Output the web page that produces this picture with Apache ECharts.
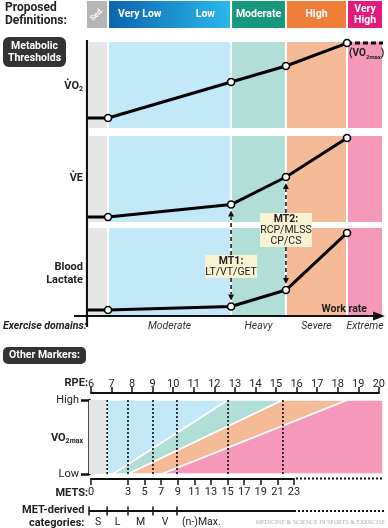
<!DOCTYPE html>
<html><head><meta charset="utf-8">
<script src="https://cdn.jsdelivr.net/npm/echarts@6/dist/echarts.min.js"></script>
<style>html,body{margin:0;padding:0;background:#fff}#c{width:388px;height:528px}</style>
</head><body><div id="c"></div>
<script>
// ---------------- data ----------------
const intensityNames = ['Sed.', 'Very Low', 'Low', 'Moderate', 'High', 'Very High'];
const headerBoxes = [[-0.7, 6.8], [6.8, 48.5], [48.5, 67.1], [67.1, 87.8], [87.8, 100]];
const domainNames = ['Moderate', 'Heavy', 'Severe', 'Extreme'];
const domainBounds = [0, 6.8, 48.5, 67.1, 87.8, 100];      // work rate, % of axis
const workRate = [0, 6.8, 48.5, 67.1, 87.8];
const vo2 = [11.6, 11.6, 53.5, 72.1, 98.8];
const ve = [5.8, 5.8, 20.3, 52.3, 97.7];
const lactate = [5.7, 5.7, 9.8, 28.7, 94.3];
const vo2maxPlateau = [[87.8, 98.8], [100, 98.8]];
const thresholdNames = [['MT1:', 'LT/VT/GET'], ['MT2:', 'RCP/MLSS', 'CP/CS']];
const thresholdIndex = [2, 3];
const rpeTicks = [6, 20];
const vo2maxLevels = ['Low', 'High'];
const vo2maxSedRange = [5.9, 6.72];                        // RPE units
const vo2maxBandLow = [6.77, 7.05, 7.77, 9.4, 20];         // band edges at low VO2max
const vo2maxBandHigh = [6.77, 12.57, 15.2, 18.3, 20];      // band edges at high VO2max
const dottedRPE = [6.77, 7.77, 8.97, 10.12, 12.57, 15.2];
const metsTicks = [0, 3, 5, 7, 9, 11, 13, 15, 17, 19, 21, 23];
const metsAxisStart = -1.46;                               // METS 0 drawn at axis start (broken axis)
const metCategories = ['S', 'L', 'M', 'V', '(n-)Max.'];
const metCategoryBounds = [5.9, 6.77, 7.77, 8.97, 10.12];  // RPE units

// ---------------- styles ----------------
const F = 'Roboto, "Noto Sans", sans-serif';
const bandColors = ['#e6e6e6', '#c3e8f8', '#b1dfd7', '#f5ba97', '#f598ba'];
const headerFills = ['#b5b5b5', null, '#17987c', '#ef7e3a', '#e5197c'];
const vo2maxColors = ['#c3e8f8', '#b1dfd7', '#f5ba97', '#f598ba'];

const chart = echarts.init(document.getElementById('c'));

function bandSeries(g) {
  return {
    type: 'custom', xAxisIndex: g, yAxisIndex: g, z: 1, silent: true,
    encode: { x: [0, 1] },
    data: domainBounds.slice(0, -1).map((b, i) => [b, domainBounds[i + 1], i]),
    renderItem(params, api) {
      const a = api.coord([api.value(0), 100]), b = api.coord([api.value(1), 0]);
      return { type: 'rect', shape: { x: a[0] + 1, y: a[1], width: b[0] - a[0] - 2, height: b[1] - a[1] },
        style: { fill: bandColors[api.value(2)] } };
    }
  };
}
function metricSeries(g, vals) {
  return {
    type: 'line', xAxisIndex: g, yAxisIndex: g, z: 5, clip: false,
    data: workRate.map((w, i) => i === 0 ? { value: [w, vals[i]], symbol: 'none' } : [w, vals[i]]),
    symbol: 'circle', symbolSize: 7,
    itemStyle: { color: '#fff', borderColor: '#000', borderWidth: 1.6 },
    lineStyle: { color: '#000', width: 3 }
  };
}
const hidX = g => ({ gridIndex: g, type: 'value', min: 0, max: 100, show: false });
const hidY = (g, mx) => ({ gridIndex: g, type: 'value', min: 0, max: mx, show: false });

const option = {
  animation: false,
  textStyle: { fontFamily: F },
  grid: [
    { left: 88, top: 1, width: 295, height: 27 },
    { left: 88, top: 42, width: 295, height: 86 },
    { left: 88, top: 136, width: 295, height: 86 },
    { left: 88, top: 228, width: 295, height: 87 },
    { left: 91, top: 393, width: 292, height: 1 },
    { left: 89, top: 400, width: 294, height: 74 },
    { left: 91, top: 478, width: 203, height: 1 }
  ],
  xAxis: [
    hidX(0), hidX(1), hidX(2), hidX(3),
    { gridIndex: 4, type: 'value', position: 'top', min: rpeTicks[0], max: rpeTicks[1], interval: 1,
      axisLine: { show: true, onZero: false, lineStyle: { color: '#111', width: 2 } },
      axisTick: { show: true, length: 6, lineStyle: { color: '#111', width: 1.5 } },
      axisLabel: { fontSize: 11, color: '#222', margin: 3 }, splitLine: { show: false } },
    { gridIndex: 5, type: 'value', min: vo2maxSedRange[0], max: 20, show: false },
    { gridIndex: 6, type: 'value', position: 'bottom', min: metsAxisStart, max: metsTicks[metsTicks.length - 1],
      axisLine: { show: true, onZero: false, lineStyle: { color: '#111', width: 2 } },
      axisTick: { show: true, length: 6, customValues: metsTicks.map(v => v === 0 ? metsAxisStart : v), lineStyle: { color: '#111', width: 1.5 } },
      axisLabel: { fontSize: 11, color: '#222', margin: 8, customValues: metsTicks.map(v => v === 0 ? metsAxisStart : v),
        formatter: v => v < 0 ? String(metsTicks[0]) : String(v) },
      splitLine: { show: false } }
  ],
  yAxis: [
    hidY(0, 1), hidY(1, 100), hidY(2, 100), hidY(3, 100), hidY(4, 1),
    { gridIndex: 5, type: 'value', min: 0, max: 1, interval: 1,
      axisLine: { show: true, onZero: false, lineStyle: { color: '#111', width: 2.5 } },
      axisTick: { show: true, length: 8, lineStyle: { color: '#111', width: 2.5 } },
      axisLabel: { fontSize: 11, color: '#222', margin: 10, formatter: v => vo2maxLevels[v] },
      splitLine: { show: false } },
    hidY(6, 1)
  ],
  series: [
    { // header: proposed definitions
      type: 'custom', xAxisIndex: 0, yAxisIndex: 0, z: 2, silent: true, encode: { x: [0, 1] },
      data: headerBoxes.map((b, i) => [b[0], b[1], i]),
      renderItem(params, api) {
        const i = api.value(2);
        const a = api.coord([api.value(0), 1]), b = api.coord([api.value(1), 0]);
        const x = a[0] + 1, y = a[1], w = b[0] - a[0] - 2, h = b[1] - a[1];
        const cx = x + w / 2, cy = y + h / 2;
        const fill = i === 1 ? new echarts.graphic.LinearGradient(0, 0, 1, 0,
          [{ offset: 0, color: '#0b64ae' }, { offset: 1, color: '#2bb8eb' }]) : headerFills[i];
        const t = (tx, ty, text, align, size, extra) => Object.assign({ type: 'text', x: tx, y: ty,
          style: { text, fill: '#fff', font: 'bold ' + size + 'px ' + F, align, verticalAlign: 'middle',
            textAlign: align, textVerticalAlign: 'middle', lineHeight: 11 } }, extra || {});
        const kids = [{ type: 'rect', shape: { x, y, width: w, height: h }, style: { fill } }];
        if (i === 0) kids.push(t(cx, cy, intensityNames[0], 'center', 7.5, { rotation: Math.PI / 4 }));
        if (i === 1) { kids.push(t(x + 9, cy, intensityNames[1], 'left', 10.5)); kids.push(t(x + w - 15, cy, intensityNames[2], 'right', 10.5)); }
        if (i >= 2) kids.push(t(cx, cy, intensityNames[i + 1].replace(' ', '\n'), 'center', 10.5));
        return { type: 'group', children: kids };
      }
    },
    bandSeries(1), bandSeries(2), bandSeries(3),
    { type: 'line', xAxisIndex: 1, yAxisIndex: 1, z: 4, data: vo2maxPlateau, symbol: 'none', clip: false,
      lineStyle: { color: '#000', width: 3, type: [5, 3] } },
    metricSeries(1, vo2), metricSeries(2, ve), metricSeries(3, lactate),
    { // VO2max-relative intensity bands
      type: 'custom', xAxisIndex: 5, yAxisIndex: 5, z: 1, silent: true, encode: { x: [0, 1] },
      data: [[vo2maxSedRange[0], vo2maxSedRange[1], -1]].concat(vo2maxColors.map((c, i) => [vo2maxBandLow[i], vo2maxBandLow[i + 1], i])),
      renderItem(params, api) {
        const i = api.value(2);
        if (i < 0) {
          const a = api.coord([api.value(0), 1]), b = api.coord([api.value(1), 0]);
          return { type: 'rect', shape: { x: a[0], y: a[1], width: b[0] - a[0], height: b[1] - a[1] }, style: { fill: bandColors[0] } };
        }
        const pts = [api.coord([vo2maxBandLow[i], 0]), api.coord([vo2maxBandLow[i + 1], 0]),
                     api.coord([vo2maxBandHigh[i + 1], 1]), api.coord([vo2maxBandHigh[i], 1])];
        return { type: 'polygon', shape: { points: pts }, style: { fill: vo2maxColors[i], stroke: '#fff', lineWidth: 1.5 } };
      }
    },
    { // dotted reference lines
      type: 'custom', xAxisIndex: 5, yAxisIndex: 5, z: 3, silent: true, encode: { x: 0 },
      data: dottedRPE.map(v => [v]),
      renderItem(params, api) {
        const a = api.coord([api.value(0), 1]), b = api.coord([api.value(0), 0]);
        return { type: 'line', shape: { x1: a[0], y1: a[1], x2: b[0], y2: b[1] },
          style: { stroke: '#000', lineWidth: 1.5, lineDash: [2, 2] } };
      }
    }
  ]
};
chart.setOption(option);

// ---------------- annotations ----------------
const px = (g, v) => chart.convertToPixel({ xAxisIndex: g, yAxisIndex: g }, v);
const G = [];
function T(x, y, text, o) {
  o = o || {};
  const a = o.a || 'left';
  G.push({ type: 'text', x, y, z: 100, silent: true, style: Object.assign({ text, fill: o.c || '#222',
    font: (o.w || 'normal') + ' ' + (o.s || 11) + 'px ' + F, align: a, verticalAlign: 'middle',
    textAlign: a, textVerticalAlign: 'middle', lineHeight: o.lh || 13 }, o.style || {}) });
}
function L(x1, y1, x2, y2, w, dash, col) {
  G.push({ type: 'line', z: 100, silent: true, shape: { x1, y1, x2, y2 },
    style: { stroke: col || '#111', lineWidth: w, lineDash: dash || null } });
}
function P(points) { G.push({ type: 'polygon', z: 100, silent: true, shape: { points }, style: { fill: '#111' } }); }
function R(x, y, w, h, r, fill) { G.push({ type: 'rect', z: 99, silent: true, shape: { x, y, width: w, height: h, r }, style: { fill } }); }
const rich = (size) => ({ m: { font: 'bold ' + size + 'px ' + F, fill: '#222', lineHeight: 14, verticalAlign: 'middle' },
  s: { font: 'bold ' + Math.round(size * 0.62) + 'px ' + F, fill: '#222', lineHeight: 14, verticalAlign: 'bottom' } });

// titles
T(5, 8, 'Proposed', { w: 'bold', s: 12 });
T(5, 20.5, 'Definitions:', { w: 'bold', s: 12 });
R(3, 37, 63, 30, 6, '#333');
T(34.5, 46.5, 'Metabolic', { w: 'bold', s: 10.5, a: 'center', c: '#fff' });
T(34.5, 58, 'Thresholds', { w: 'bold', s: 10.5, a: 'center', c: '#fff' });
R(3, 347, 83, 17, 5, '#333');
T(44.5, 355.5, 'Other Markers:', { w: 'bold', s: 10.5, a: 'center', c: '#fff' });

// panel labels
G.push({ type: 'text', x: 83, y: 86, z: 100, style: { text: '{m|V\u0307O}{s|2}', rich: rich(11), align: 'right', verticalAlign: 'middle', textAlign: 'right', textVerticalAlign: 'middle' } });
T(83, 178, 'V\u0307E', { w: 'bold', a: 'right' });
T(83, 267, 'Blood', { w: 'bold', a: 'right' });
T(83, 280, 'Lactate', { w: 'bold', a: 'right' });

// axes of the metabolic panels
L(87, 40, 87, 327, 2.2);
L(74, 316, 376, 316, 2.2);
P([[373, 311.5], [385, 316], [373, 320.5]]);
T(367, 309, 'Work rate', { w: 'bold', s: 10.5, a: 'right' });
T(3, 326, 'Exercise domains:', { w: 'italic bold', s: 10.5 });
domainNames.forEach((n, i) => {
  const c = (domainBounds[i + 1] + domainBounds[i + 2]) / 2;
  T(px(3, [c, 0])[0], 326, n, { w: 'italic', s: 10.5, c: '#333', a: 'center' });
});

// VO2max label
const pm = px(1, vo2maxPlateau[0]);
G.push({ type: 'text', x: pm[0] + 2, y: pm[1] + 10, z: 100, style: { text: '{m|(VO}{s|2max}{m|)}', rich: rich(10), align: 'left', verticalAlign: 'middle', textAlign: 'left', textVerticalAlign: 'middle' } });

// threshold boxes and arrows
const boxes = [{ top: 255, h: 23 }, { top: 213, h: 34 }];
thresholdIndex.forEach((k, j) => {
  const pv = px(2, [workRate[k], ve[k]]), pl = px(3, [workRate[k], lactate[k]]);
  const x = pv[0], b = boxes[j], w = 52;
  R(x - w / 2, b.top, w, b.h, 0, '#f7f3d3');
  thresholdNames[j].forEach((s, q) => T(x, b.top + 6.5 + q * 11, s, { w: q === 0 ? 'bold' : 'normal', s: 10.5, a: 'center' }));
  const upTip = pv[1] + 6, dnTip = pl[1] - 6;
  L(x, b.top, x, upTip + 6, 1.5, [4, 3]);
  P([[x - 3, upTip + 6], [x + 3, upTip + 6], [x, upTip]]);
  L(x, b.top + b.h, x, dnTip - 6, 1.5, [4, 3]);
  P([[x - 3, dnTip - 6], [x + 3, dnTip - 6], [x, dnTip]]);
});

// other markers labels
T(88, 383, 'RPE:', { w: 'bold', a: 'right' });
G.push({ type: 'text', x: 83, y: 438, z: 100, style: { text: '{m|VO}{s|2max}', rich: rich(11), align: 'right', verticalAlign: 'middle', textAlign: 'right', textVerticalAlign: 'middle' } });
T(88, 493, 'METS:', { w: 'bold', a: 'right' });
const metsEnd = chart.convertToPixel({ xAxisIndex: 6 }, metsTicks[metsTicks.length - 1]);
L(metsEnd + 2, 478.5, 384, 478.5, 2, [2, 2]);

// MET-derived categories
T(22, 510, 'MET-derived', { w: 'bold' });
T(29, 523, 'categories:', { w: 'bold' });
const cx = metCategoryBounds.map(v => px(5, [v, 0])[0]);
L(cx[0], 511, metsEnd, 511, 2);
L(metsEnd, 511, 384, 511, 2, [2, 2]);
cx.forEach(x => L(x, 506.5, x, 515.5, 1.5));
metCategories.forEach((n, i) => {
  if (i < 4) T((cx[i] + cx[i + 1]) / 2, 522, n, { s: 10.5, a: 'center' });
  else T(cx[4] + 5, 522, n, { s: 10.5 });
});
T(385, 522, 'MEDICINE & SCIENCE IN SPORTS & EXERCISE', { s: 6, c: '#b0b0b0', a: 'right', style: { font: '6px "Liberation Serif", serif' } });

chart.setOption({ graphic: { elements: G } });
</script></body></html>
